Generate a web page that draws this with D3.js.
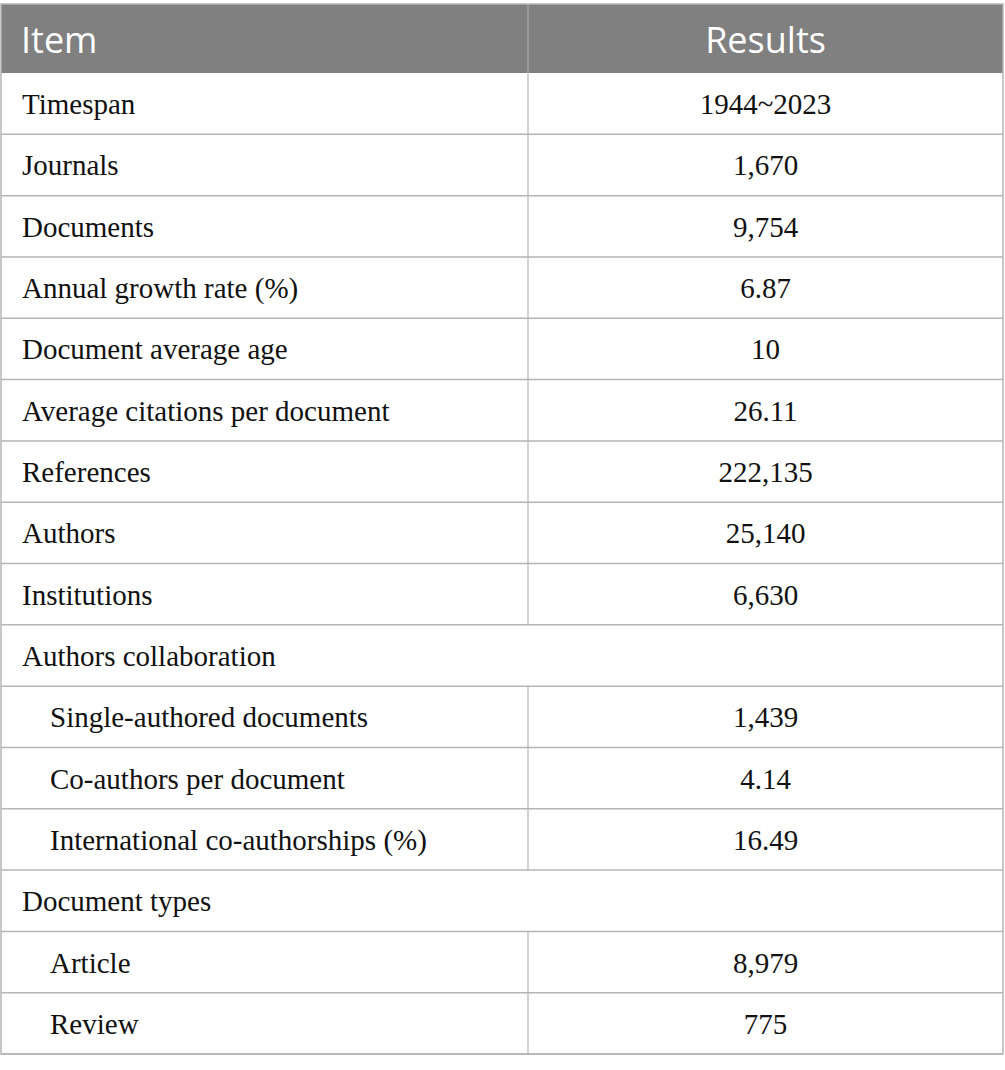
<!DOCTYPE html>
<html><head><meta charset="utf-8">
<script src="https://cdn.jsdelivr.net/npm/d3@7"></script>
<style>body{margin:0;background:#fff}</style>
</head><body>
<script>
const headers = ["Item", "Results"];
const items = ["Timespan","Journals","Documents","Annual growth rate (%)","Document average age","Average citations per document","References","Authors","Institutions","Authors collaboration","Single-authored documents","Co-authors per document","International co-authorships (%)","Document types","Article","Review"];
const results = ["1944~2023","1,670","9,754","6.87","10","26.11","222,135","25,140","6,630",null,"1,439","4.14","16.49",null,"8,979","775"];
const indent = [0,0,0,0,0,0,0,0,0,0,1,1,1,0,1,1];

const W = 1005, H = 1070;
const svg = d3.select("body").append("svg").attr("width", W).attr("height", H);
const left = 1, right = 1003, divX = 528, headTop = 4, headBot = 73, bottom = 1054;
const y = d3.scaleBand().domain(d3.range(items.length)).range([headBot, bottom]);
const lineC = "#b5b5b5";

svg.append("rect").attr("x", left).attr("y", headTop).attr("width", right-left).attr("height", headBot-headTop).attr("fill", "#808080");
svg.append("text").attr("x", 21).attr("y", 53).text(headers[0])
  .attr("font-family","'Open Sans'").attr("font-size",36).attr("fill","#fff");
svg.append("text").attr("x", (divX+right)/2).attr("y", 53).attr("text-anchor","middle").text(headers[1])
  .attr("font-family","'Open Sans'").attr("font-size",36).attr("fill","#fff");

const rows = svg.selectAll("g.row").data(items.map((d,i)=>({item:d,res:results[i],ind:indent[i],i}))).join("g");
rows.append("text").attr("x", d=>d.ind?50:22).attr("y", d=>y(d.i)+y.bandwidth()/2+10.5)
  .text(d=>d.item).attr("font-family","'Liberation Serif'").attr("font-size",29).attr("fill","#111");
rows.filter(d=>d.res!==null).append("text").attr("x",(divX+right)/2).attr("y", d=>y(d.i)+y.bandwidth()/2+10.5)
  .attr("text-anchor","middle").text(d=>d.res).attr("font-family","'Liberation Serif'").attr("font-size",29).attr("fill","#111");

// horizontal lines
svg.selectAll("line.h").data(d3.range(items.length)).join("line")
  .attr("x1",left).attr("x2",right).attr("y1",d=>y(d)+y.bandwidth()).attr("y2",d=>y(d)+y.bandwidth())
  .attr("stroke",lineC).attr("stroke-width",1.5);
// vertical divider per row
svg.selectAll("line.v").data(d3.range(items.length).filter(i=>results[i]!==null)).join("line")
  .attr("x1",divX).attr("x2",divX).attr("y1",d=>y(d)).attr("y2",d=>y(d)+y.bandwidth())
  .attr("stroke",lineC).attr("stroke-width",1.2);
svg.append("line").attr("x1",divX).attr("x2",divX).attr("y1",headTop).attr("y2",headBot).attr("stroke","#a8a8a8").attr("stroke-width",1.2);
// outer border
svg.append("rect").attr("x",left).attr("y",headTop).attr("width",right-left).attr("height",bottom-headTop)
  .attr("fill","none").attr("stroke",lineC).attr("stroke-width",1.5);
</script>
</body></html>
